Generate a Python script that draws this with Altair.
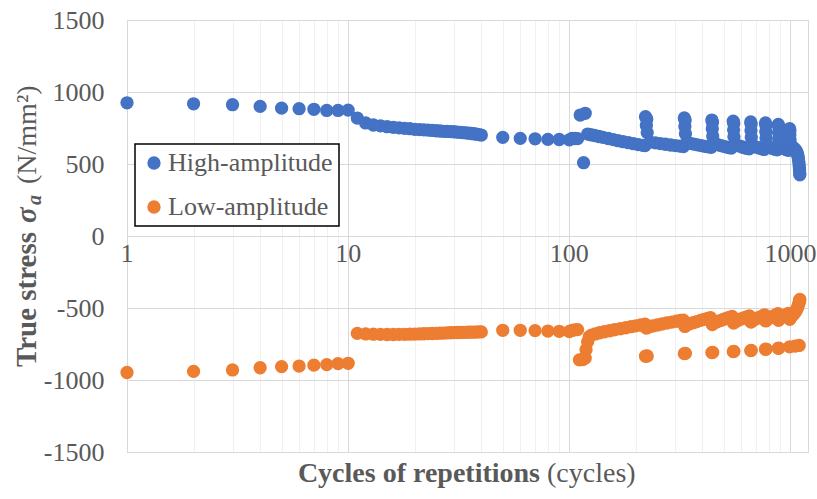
import altair as alt
import pandas as pd

# ---------------- data ----------------
series_names = ["High-amplitude", "Low-amplitude"]
series_colors = ["#4472C4", "#ED7D31"]

hi_cycles = [1, 2, 3, 4, 5, 6, 7, 8, 9, 10,
             11, 12, 13, 14, 15, 16, 17, 18, 19, 20,
             21, 22, 23, 24, 25, 26, 27, 28, 29, 30,
             31, 32, 33, 34, 35, 36, 37, 38, 39, 40,
             50, 60, 70, 80, 90, 100, 103, 106, 109,
             112, 118, 116,
             121, 125, 130, 136, 142, 150, 158, 166, 175, 185, 195, 205, 215, 220,
             221, 224, 223, 225, 232, 245, 258, 272, 287, 302, 316, 328,
             331, 334, 333, 335, 340, 352, 365, 380, 395, 410, 425, 438,
             441, 444, 443, 445, 450, 465, 480, 495, 510, 525, 540,
             551, 554, 553, 555, 560, 575, 590, 605, 620, 635, 650,
             661, 664, 663, 665, 670, 688, 706, 724, 742, 760,
             771, 774, 773, 775, 780, 798, 816, 834, 852, 870,
             881, 884, 883, 885, 890, 908, 926, 944, 962, 980,
             991, 994, 993, 995, 1000, 1015, 1030, 1045, 1058, 1068, 1076, 1082,
             1087, 1091, 1094, 1097, 1099, 1101, 1102]
hi_values = [925, 918, 912, 900, 888, 884, 880, 872, 872, 874,
             819, 785, 771, 765, 759, 755, 751, 748, 745, 741,
             739, 737, 735, 733, 731, 729, 727, 726, 725, 724,
             722, 720, 718, 716, 714, 712, 710, 707, 704, 701,
             685, 678, 675, 671, 670, 668, 678, 677, 676,
             840, 852, 509,
             708, 703, 698, 691, 685, 677, 669, 662, 655, 648, 641, 635, 630, 628,
             828, 813, 768, 718, 652, 647, 642, 637, 632, 628, 624, 621,
             820, 805, 760, 710, 648, 643, 638, 633, 628, 623, 619, 616,
             805, 790, 745, 695, 642, 636, 630, 624, 619, 614, 610,
             797, 782, 737, 690, 636, 630, 624, 618, 613, 609, 605,
             792, 777, 732, 685, 628, 622, 616, 610, 605, 601,
             785, 770, 725, 680, 625, 619, 613, 607, 602, 598,
             775, 760, 718, 675, 622, 616, 610, 604, 599, 595,
             745, 732, 700, 665, 630, 622, 614, 605, 595, 582, 568, 552,
             535, 515, 495, 475, 455, 438, 425]

lo_cycles = [1, 2, 3, 4, 5, 6, 7, 8, 9, 10,
             11, 12, 13, 14, 15, 16, 17, 18, 19, 20,
             21, 22, 23, 24, 25, 26, 27, 28, 29, 30,
             31, 32, 33, 34, 35, 36, 37, 38, 39, 40,
             50, 60, 70, 80, 90, 100, 103, 106, 109,
             111, 115, 118, 119, 121, 123,
             126, 131, 137, 144, 152, 160, 170, 180, 190, 200, 210, 220,
             221, 225, 223, 228, 238, 250, 262, 276, 290, 305, 318, 328,
             331, 335, 333, 338, 350, 363, 377, 392, 407, 422, 435,
             441, 445, 443, 450, 465, 480, 496, 512, 528, 545,
             551, 555, 553, 562, 580, 598, 616, 634, 652,
             661, 665, 663, 672, 692, 712, 732, 752, 765,
             771, 775, 773, 782, 803, 824, 845, 866, 878,
             881, 885, 883, 893, 915, 937, 959, 980,
             991, 1050, 1095,
             993, 1003, 1020, 1038, 1055, 1068, 1078, 1086, 1092, 1097, 1100, 1102]
lo_values = [-948, -940, -930, -915, -907, -903, -897, -893, -886, -884,
             -676, -680, -682, -683, -684, -684, -683, -683, -682, -681,
             -680, -679, -678, -677, -676, -675, -674, -673, -672, -671,
             -670, -670, -669, -669, -668, -668, -667, -667, -666, -666,
             -655, -655, -657, -660, -662, -663, -655, -652, -650,
             -860, -858, -848, -790, -735, -700,
             -688, -680, -672, -665, -658, -651, -644, -637, -630, -624, -618, -613,
             -835, -833, -640, -632, -625, -618, -611, -604, -598, -592, -587, -584,
             -817, -815, -628, -618, -610, -602, -594, -586, -579, -572, -567,
             -810, -808, -615, -605, -596, -588, -580, -572, -565, -558,
             -803, -801, -605, -595, -585, -576, -568, -561, -555,
             -796, -794, -598, -588, -578, -569, -561, -553, -548,
             -787, -785, -590, -580, -570, -561, -553, -545, -540,
             -780, -778, -585, -572, -562, -553, -545, -537,
             -770, -765, -760,
             -578, -565, -552, -540, -526, -510, -494, -478, -465, -455, -448, -440]

x_tick_labels = [1, 10, 100, 1000]
x_grid_values = [1, 2, 3, 4, 5, 6, 7, 8, 9,
                 10, 20, 30, 40, 50, 60, 70, 80, 90,
                 100, 200, 300, 400, 500, 600, 700, 800, 900, 1000]
y_tick_values = [-1500, -1000, -500, 0, 500, 1000, 1500]

df = pd.DataFrame({
    "cycles": hi_cycles + lo_cycles,
    "stress": hi_values + lo_values,
    "series": [series_names[0]] * len(hi_cycles) + [series_names[1]] * len(lo_cycles),
})
labels_df = pd.DataFrame({"cycles": x_tick_labels, "label": [str(v) for v in x_tick_labels]})

# ---------------- styling ----------------
FONT = "Liberation Serif"
GREY = "#595959"
W, H = 681, 432

xscale = alt.Scale(type="log", domain=[1, 1200], nice=False)
yscale = alt.Scale(domain=[-1500, 1500], nice=False)

x_axis = alt.Axis(
    values=x_grid_values, labels=False, ticks=False, domain=False, title=None,
    grid=True, gridWidth=1,
    gridColor={"condition": {"test": "datum.value == 1 || datum.value == 10 || datum.value == 100 || datum.value == 1000",
                             "value": "#D9D9D9"},
               "value": "#F0F0F0"},
)
y_axis = alt.Axis(
    values=y_tick_values, ticks=False, domain=False, title=None,
    grid=True, gridColor="#D9D9D9", gridWidth=1,
    labelFont=FONT, labelFontSize=26, labelColor=GREY, labelPadding=23,
    labelExpr="'' + datum.value",
)

x_enc = alt.X("cycles:Q", scale=xscale, axis=x_axis)

points = alt.Chart(df).mark_circle(size=177, opacity=1).encode(
    x=x_enc,
    y=alt.Y("stress:Q", scale=yscale, axis=y_axis),
    color=alt.Color(
        "series:N",
        scale=alt.Scale(domain=series_names, range=series_colors),
        legend=alt.Legend(
            orient="none", legendX=8, legendY=124, title=None,
            labelFont=FONT, labelFontSize=26, labelColor=GREY, labelLimit=400,
            symbolType="circle", symbolSize=177, symbolStrokeWidth=0, symbolOpacity=1,
            padding=6, rowPadding=18, labelOffset=1,
            strokeColor="black", fillColor="white", cornerRadius=0,
        ),
    ),
)

xlabels = alt.Chart(labels_df).mark_text(
    font=FONT, fontSize=26, color=GREY, baseline="alphabetic", align="center", dy=26,
).encode(
    x=x_enc,
    y=alt.YDatum(0, scale=yscale),
    text="label:N",
)

one = alt.Data(values=[{}])


def txt(text, x, y, size=28, weight="normal", style="normal", angle=0, align="left"):
    kw = dict(text=text, font=FONT, fontSize=size, fontWeight=weight, fontStyle=style,
              color=GREY, align=align, baseline="alphabetic")
    if angle:
        kw["angle"] = angle
    return alt.Chart(one).mark_text(**kw).encode(x=alt.value(x), y=alt.value(y))


titles = [
    # x-axis title
    txt("Cycles of repetitions", 413, 462, weight="bold", align="right"),
    txt("(cycles)", 420, 462, align="left"),
    # y-axis title (rotated)
    txt("True stress", -91, 347, size=29, weight="bold", angle=270),
    txt("σ", -91, 203, size=29, weight="bold", style="italic", angle=270),
    txt("a", -86, 185, size=20, weight="bold", style="italic", angle=270),
    txt("(N/mm²)", -91, 164, angle=270),
]

chart = alt.layer(points, xlabels, *titles).properties(
    width=W, height=H,
    padding={"left": 127, "top": 20, "right": 9, "bottom": 47},
    autosize=alt.AutoSizeParams(type="none"),
).configure_view(
    stroke="#D9D9D9", strokeWidth=1,
).configure_legend(
    strokeWidth=1.5,
)

chart.save("out.html", embed_options={"renderer": "svg", "actions": False})
